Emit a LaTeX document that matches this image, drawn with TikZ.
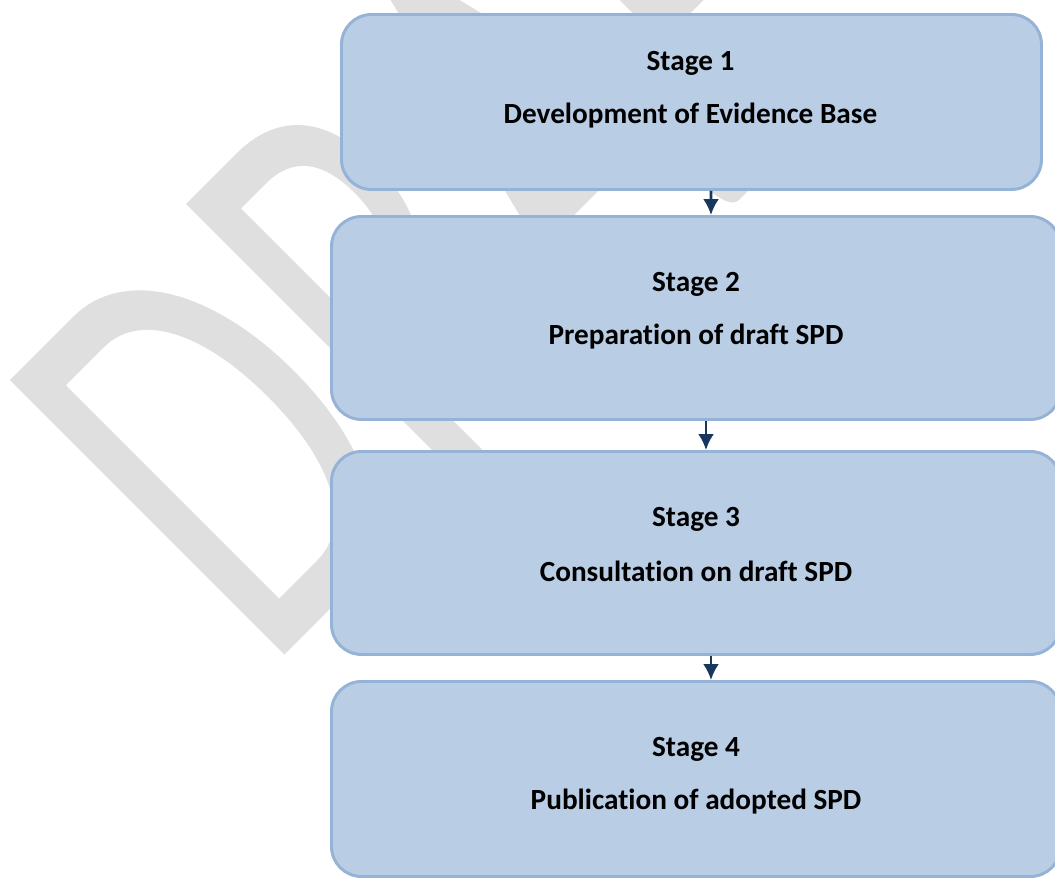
\documentclass[tikz,border=0pt]{standalone}
\usepackage{fontspec}
\setmainfont{Carlito}[Ligatures=NoCommon]
\usetikzlibrary{arrows.meta}
\definecolor{boxfill}{HTML}{B9CDE5}
\definecolor{boxline}{HTML}{95B3D7}
\definecolor{arrowblue}{HTML}{17375E}
\definecolor{wmgray}{HTML}{DFDFDF}

\begin{document}
\begin{tikzpicture}[>={Latex[length=4mm,width=4mm]},
	stagebox/.style={draw=boxline, fill=boxfill, line width=2.1pt, rounded corners=0.75cm, inner sep=0pt},
	stagetext/.style={anchor=base, inner sep=0pt, font=\fontsize{20.8}{20.8}\selectfont\bfseries},
	flow/.style={->, draw=arrowblue, line width=1.9pt}]
			%%%	Frame
			\useasboundingbox (0,0) rectangle (26.375,21.975);
			\clip (0,0) rectangle (26.375,21.975);
			%%%	Watermark
			\node [anchor=base west, inner sep=0pt, rotate=45, yscale=1.5, text=wmgray,
				font=\fontsize{287}{287}\selectfont] (draft) at (6.63,5.1) {DRAFT};
			%%%	Stages
			\node [stagebox, minimum width=17.5cm, minimum height=4.375cm] (s1) at (17.2875,19.425) {};
			\node [stagebox, minimum width=18.225cm, minimum height=5.075cm] (s2) at (17.4,14.025) {};
			\node [stagebox, minimum width=18.225cm, minimum height=5.075cm] (s3) at (17.4,8.15) {};
			\node [stagebox, minimum width=18.225cm, minimum height=4.875cm] (s4) at (17.4,2.5) {};
			
			\node [stagetext] (s1a) at (17.2625,20.2) {Stage 1};
			\node [stagetext] (s1b) at (17.2625,18.88) {Development of Evidence Base};
			\node [stagetext] (s2a) at (17.4,14.675) {Stage 2};
			\node [stagetext] (s2b) at (17.4,13.35) {Preparation of draft SPD};
			\node [stagetext] (s3a) at (17.4,8.8) {Stage 3};
			\node [stagetext] (s3b) at (17.4,7.425) {Consultation on draft SPD};
			\node [stagetext] (s4a) at (17.4,3.05) {Stage 4};
			\node [stagetext] (s4b) at (17.4,1.725) {Publication of adopted SPD};
			%%%	Arrows
			\draw [flow] ([xshift=0.4875cm]s1.south) -- ([xshift=0.375cm]s2.north);
			\draw [flow] ([xshift=0.25cm]s2.south) -- ([xshift=0.25cm]s3.north);
			\draw [flow] ([xshift=0.375cm]s3.south) -- ([xshift=0.375cm]s4.north);
		\end{tikzpicture}
\end{document}
